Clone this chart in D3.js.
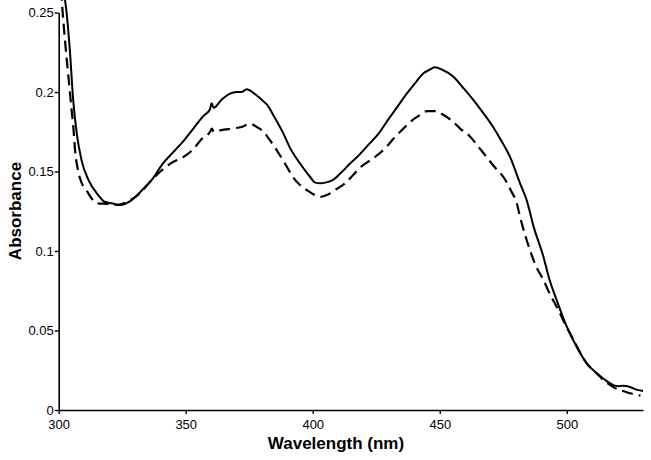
<!DOCTYPE html>
<html>
<head>
<meta charset="utf-8">
<script src="https://cdn.jsdelivr.net/npm/d3@7"></script>
<style>
  html, body { margin: 0; padding: 0; background: #fff; }
  svg { display: block; }
  text { font-family: "Liberation Sans", Arial, sans-serif; fill: #000; }
</style>
</head>
<body>
<div id="chart"></div>
<script>
// ---------- data ----------
const solidWavelength = [301.5, 302.5, 303.1, 304.4, 305.7, 307.1, 309, 311.7, 315.6, 318, 320.9, 324, 328.7, 332, 336.6, 341, 345, 349, 353, 357, 359.5, 360.2, 361, 364, 367.4, 370, 372, 374, 377, 380, 382, 385, 388.4, 391, 395, 398.9, 401, 403, 405, 408, 411, 414.7, 418, 422.6, 426, 429, 433, 437, 440, 443.5, 446, 448, 451, 455.4, 459, 463.2, 467, 471, 474, 477.7, 481.6, 484.2, 487, 490.8, 493, 496, 500, 502.5, 505.3, 508, 511.8, 515, 518.3, 520, 522, 524.9, 527, 530];
const solidAbsorbance = [0.28, 0.258, 0.25, 0.226, 0.195, 0.174, 0.157, 0.1447, 0.135, 0.131, 0.13, 0.129, 0.132, 0.137, 0.1447, 0.155, 0.162, 0.169, 0.177, 0.185, 0.189, 0.193, 0.19, 0.195, 0.199, 0.2, 0.2, 0.2017, 0.199, 0.195, 0.192, 0.184, 0.174, 0.165, 0.155, 0.1467, 0.143, 0.1426, 0.143, 0.1447, 0.149, 0.155, 0.16, 0.168, 0.174, 0.181, 0.19, 0.199, 0.205, 0.2117, 0.214, 0.2155, 0.214, 0.2096, 0.203, 0.195, 0.187, 0.178, 0.17, 0.159, 0.1426, 0.132, 0.115, 0.0964, 0.083, 0.0692, 0.0524, 0.044, 0.0357, 0.029, 0.0231, 0.019, 0.0157, 0.015, 0.0152, 0.0145, 0.013, 0.012];

const dashedWavelength = [300.5, 301.2, 302.5, 303.8, 305, 305.8, 306.4, 307.7, 309, 311, 313, 315, 319.4, 323, 327, 331, 336, 340, 345, 349, 353, 356, 359.6, 360.3, 361, 364, 368, 372, 375.3, 378, 380.6, 383, 385.8, 389.8, 392, 395, 398, 401, 403, 406, 409.4, 413, 416, 419, 422.6, 426, 429.1, 432, 435.7, 439, 442.2, 445, 448.1, 451, 455.4, 458, 461.9, 465, 468.5, 472, 475, 478, 480.3, 481.6, 485.5, 488, 490.8, 493, 496, 500, 503, 505.3, 508, 511.8, 515, 518.3, 520, 522, 524.9, 527, 529];
const dashedAbsorbance = [0.275, 0.258, 0.232, 0.21, 0.19, 0.177, 0.164, 0.15, 0.143, 0.138, 0.133, 0.13, 0.1296, 0.129, 0.131, 0.135, 0.1435, 0.15, 0.156, 0.159, 0.164, 0.17, 0.175, 0.177, 0.175, 0.176, 0.177, 0.178, 0.18, 0.178, 0.175, 0.17, 0.1635, 0.153, 0.147, 0.1415, 0.138, 0.135, 0.134, 0.1355, 0.139, 0.143, 0.148, 0.153, 0.157, 0.161, 0.1656, 0.171, 0.177, 0.182, 0.1855, 0.188, 0.188, 0.186, 0.181, 0.177, 0.172, 0.166, 0.159, 0.152, 0.1467, 0.138, 0.13, 0.1216, 0.1006, 0.09, 0.0818, 0.074, 0.065, 0.052, 0.043, 0.036, 0.029, 0.023, 0.018, 0.0145, 0.013, 0.012, 0.0105, 0.0097, 0.009];

const xTicks = [300, 350, 400, 450, 500];
const yTicks = [0, 0.05, 0.1, 0.15, 0.2, 0.25];
const xTickLabels = ["300", "350", "400", "450", "500"];
const yTickLabels = ["0", "0.05", "0.1", "0.15", "0.2", "0.25"];
const xTitle = "Wavelength (nm)";
const yTitle = "Absorbance";

// ---------- layout ----------
const W = 651, H = 460;
const svg = d3.select("#chart").append("svg").attr("width", W).attr("height", H);

const x = d3.scaleLinear().domain([300, 530]).range([58.7, 643]);
const y = d3.scaleLinear().domain([0, 0.25]).range([410, 12.5]);

// axes
const xAxis = d3.axisBottom(x).tickValues(xTicks)
  .tickFormat((d, i) => xTickLabels[i]).tickSizeInner(4).tickSizeOuter(0).tickPadding(6);
const yAxis = d3.axisLeft(y).tickValues(yTicks)
  .tickFormat((d, i) => yTickLabels[i]).tickSizeInner(4).tickSizeOuter(0).tickPadding(1);

const gx = svg.append("g").attr("transform", `translate(0,${y(0)})`).call(xAxis);
const gy = svg.append("g").attr("transform", `translate(${x(300)},0)`).call(yAxis);

[gx, gy].forEach(g => {
  g.select(".domain").attr("stroke", "#000").attr("stroke-width", 1.6);
  g.selectAll(".tick line").attr("stroke", "#000").attr("stroke-width", 1.4);
  g.selectAll(".tick text").attr("font-family", "Liberation Sans, Arial, sans-serif")
    .attr("font-size", 13).attr("fill", "#000");
});
gy.selectAll(".tick text").attr("dy", "0.34em");

// curves
const line = d3.line().curve(d3.curveMonotoneX).x(d => x(d[0])).y(d => y(d[1]));
const solidData = solidWavelength.map((w, i) => [w, solidAbsorbance[i]]);
const dashedData = dashedWavelength.map((w, i) => [w, dashedAbsorbance[i]]);

svg.append("path").datum(dashedData)
  .attr("d", line).attr("fill", "none").attr("stroke", "#000")
  .attr("stroke-width", 2.2).attr("stroke-dasharray", "11,6");

svg.append("path").datum(solidData)
  .attr("d", line).attr("fill", "none").attr("stroke", "#000")
  .attr("stroke-width", 2);

// titles
svg.append("text")
  .attr("x", 336).attr("y", 449)
  .attr("text-anchor", "middle")
  .attr("font-size", 17).attr("font-weight", "bold")
  .text(xTitle);

svg.append("text")
  .attr("transform", `translate(21,${211}) rotate(-90)`)
  .attr("text-anchor", "middle")
  .attr("font-size", 17).attr("font-weight", "bold")
  .text(yTitle);
</script>
</body>
</html>
